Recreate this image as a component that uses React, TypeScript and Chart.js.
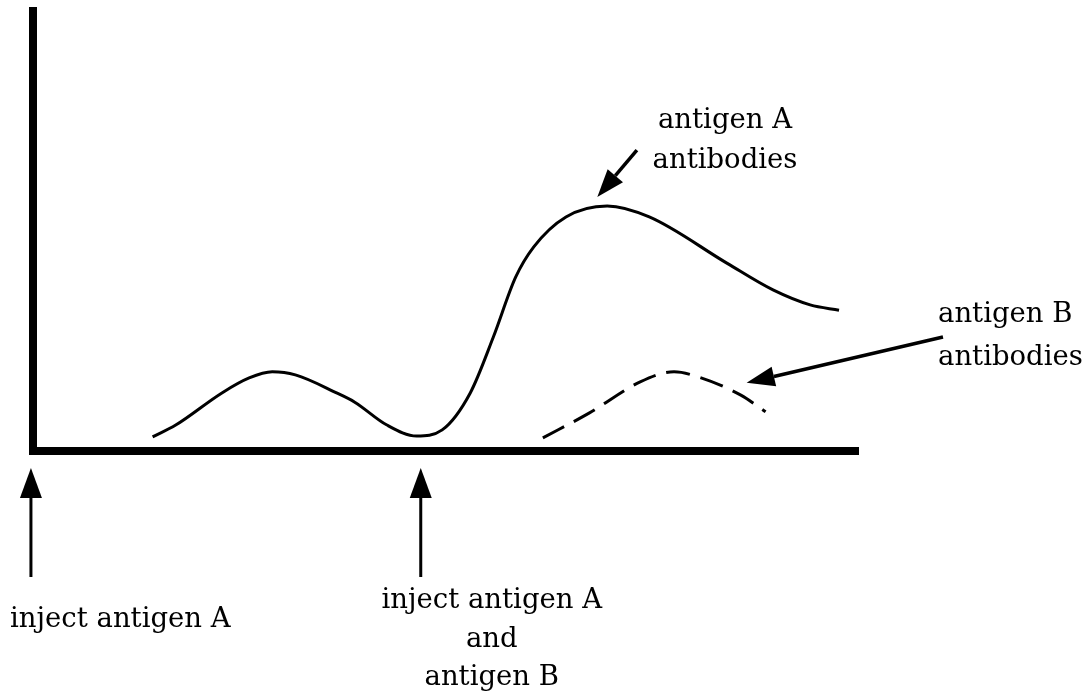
import React, { useEffect, useRef } from "react";
import { Chart, registerables } from "chart.js";

Chart.register(...registerables);

// time after first injection (arbitrary units, 0..100)
const antigenATime = [14.5, 17.3, 22.9, 26.2, 29.0, 31.8, 36.8, 39.0, 42.9, 46.5, 49.6, 53.0, 55.8, 58.5, 60.7, 64.6, 69.6, 74.7, 84.1, 89.7, 94.2, 97.7];
// antibody level (arbitrary units, 0..100)
const antigenALevel = [3.2, 5.9, 13.2, 16.6, 18.0, 17.3, 13.2, 11.1, 5.9, 3.4, 4.8, 13.2, 25.9, 39.5, 46.4, 53.2, 55.7, 53.2, 42.7, 36.6, 33.2, 32.0];
const antigenBTime = [61.8, 67.4, 73.6, 77.7, 80.7, 85.8, 88.8];
const antigenBLevel = [3.0, 8.6, 15.7, 18.0, 16.8, 12.7, 8.9];

const injectionTimes = [-0.25, 47];
const injectionLabels = [["inject antigen A"], ["inject antigen A", "and", "antigen B"]];
const curveLabels = [["antigen A", "antibodies"], ["antigen B", "antibodies"]];
// arrow tips pointing at curves (data coords) and tails (data coords)
const curveArrowTips = [[68.4, 57.7], [86.5, 15.5]];
const curveArrowTails = [[73.2, 68.4], [110.3, 25.9]];

const FONT = '27.5px "DejaVu Serif"';

function drawArrow(ctx: CanvasRenderingContext2D, x1: number, y1: number, x2: number, y2: number, headLen: number, headW: number, lw: number) {
  const ang = Math.atan2(y2 - y1, x2 - x1);
  const bx = x2 - Math.cos(ang) * headLen;
  const by = y2 - Math.sin(ang) * headLen;
  ctx.save();
  ctx.strokeStyle = "#000";
  ctx.fillStyle = "#000";
  ctx.lineWidth = lw;
  ctx.beginPath();
  ctx.moveTo(x1, y1);
  ctx.lineTo(bx, by);
  ctx.stroke();
  const px = -Math.sin(ang) * headW / 2;
  const py = Math.cos(ang) * headW / 2;
  ctx.beginPath();
  ctx.moveTo(x2, y2);
  ctx.lineTo(bx + px, by + py);
  ctx.lineTo(bx - px, by - py);
  ctx.closePath();
  ctx.fill();
  ctx.restore();
}

const annotationPlugin = {
  id: "annotations",
  afterDatasetsDraw(chart: any) {
    const ctx: CanvasRenderingContext2D = chart.ctx;
    const xs = chart.scales.x;
    const ys = chart.scales.y;
    const axisY = ys.getPixelForValue(0);

    // injection arrows
    injectionTimes.forEach((t) => {
      const x = xs.getPixelForValue(t);
      drawArrow(ctx, x, axisY + 126, x, axisY + 17, 30, 22, 3);
    });

    ctx.save();
    ctx.fillStyle = "#000";
    ctx.font = FONT;
    ctx.textBaseline = "alphabetic";

    // injection labels
    ctx.textAlign = "left";
    ctx.fillText(injectionLabels[0][0], 10, axisY + 176);
    ctx.textAlign = "center";
    const cx = xs.getPixelForValue(injectionTimes[1]) + 71;
    injectionLabels[1].forEach((line, k) => {
      ctx.fillText(line, cx, axisY + 157 + k * 38.5);
    });

    // curve labels
    ctx.textAlign = "center";
    curveLabels[0].forEach((line, k) => {
      ctx.fillText(line, 725, 128 + k * 40);
    });
    ctx.textAlign = "left";
    curveLabels[1].forEach((line, k) => {
      ctx.fillText(line, 938, 322 + k * 43);
    });
    ctx.restore();

    curveArrowTips.forEach((tip, i) => {
      const tail = curveArrowTails[i];
      drawArrow(
        ctx,
        xs.getPixelForValue(tail[0]),
        ys.getPixelForValue(tail[1]),
        xs.getPixelForValue(tip[0]),
        ys.getPixelForValue(tip[1]),
        28,
        20,
        3.5
      );
    });
  },
};

export default function App() {
  const ref = useRef<HTMLCanvasElement | null>(null);

  useEffect(() => {
    if (!ref.current) return;
    const chart = new Chart(ref.current, {
      type: "line",
      data: {
        datasets: [
          {
            label: "antigen A antibodies",
            data: antigenATime.map((t, i) => ({ x: t, y: antigenALevel[i] })),
            borderColor: "#000",
            borderWidth: 3,
            pointRadius: 0,
            cubicInterpolationMode: "monotone",
            fill: false,
          },
          {
            label: "antigen B antibodies",
            data: antigenBTime.map((t, i) => ({ x: t, y: antigenBLevel[i] })),
            borderColor: "#000",
            borderWidth: 3,
            borderDash: [24, 11],
            pointRadius: 0,
            cubicInterpolationMode: "monotone",
            fill: false,
          },
        ],
      },
      options: {
        animation: false,
        responsive: false,
        devicePixelRatio: 1,
        layout: { padding: { left: 33, top: 11, right: 232, bottom: 243 } },
        plugins: { legend: { display: false }, tooltip: { enabled: false } },
        scales: {
          x: {
            type: "linear",
            min: 0,
            max: 100,
            grid: { display: false, drawTicks: false },
            ticks: { display: false },
            border: { display: true, width: 8, color: "#000" },
          },
          y: {
            type: "linear",
            min: 0,
            max: 100,
            grid: { display: false, drawTicks: false },
            ticks: { display: false },
            border: { display: true, width: 8, color: "#000" },
          },
        },
      },
      plugins: [annotationPlugin],
    });
    return () => chart.destroy();
  }, []);

  return (
    <div style={{ position: "absolute", left: 0, top: 0, width: 1090, height: 694, background: "#fff" }}>
      <canvas ref={ref} width={1090} height={694} style={{ display: "block" }} />
    </div>
  );
}
